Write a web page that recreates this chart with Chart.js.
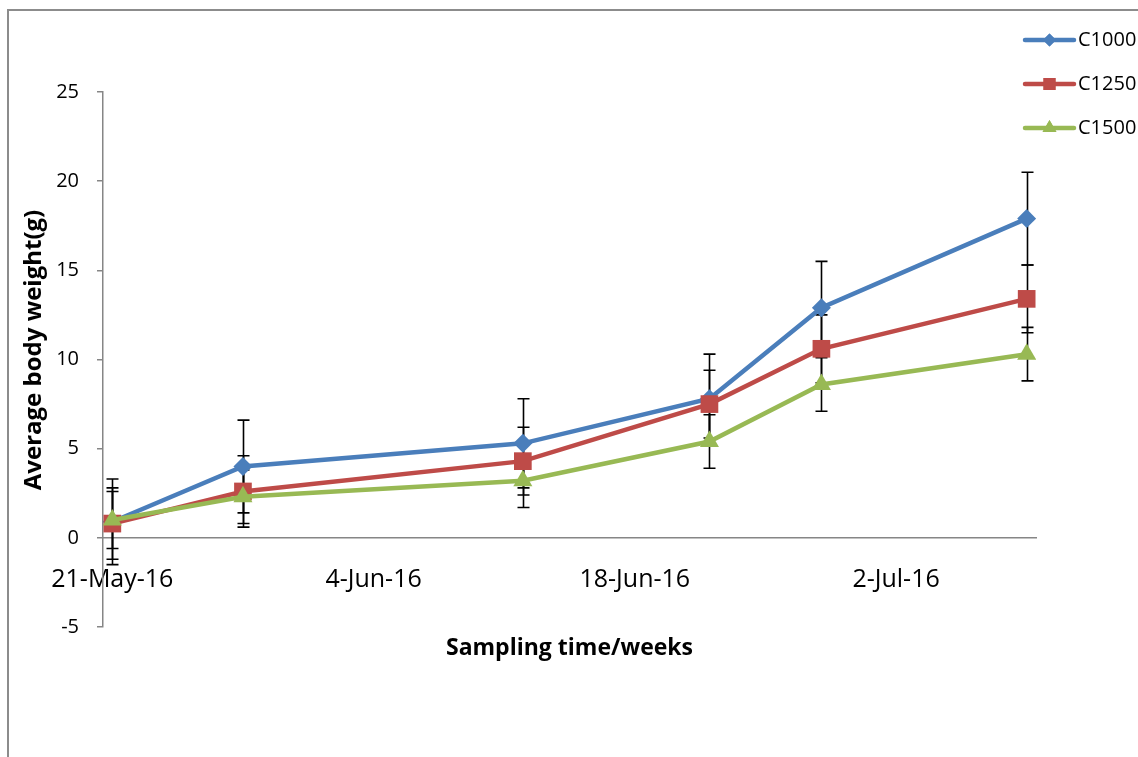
<!DOCTYPE html>
<html>
<head>
<meta charset="utf-8">
<title>Average body weight</title>
<script src="https://cdn.jsdelivr.net/npm/chart.js@4.4.1/dist/chart.umd.min.js"></script>
<style>
  html, body { margin: 0; padding: 0; background: #fff; }
</style>
</head>
<body>
<canvas id="growth" width="1138" height="757"></canvas>
<script>
// sampling dates and the mean weights (g) per treatment
const sampleDates = ['2016-05-21', '2016-05-28', '2016-06-12', '2016-06-22', '2016-06-28', '2016-07-09'];
const seriesNames = ['C1000', 'C1250', 'C1500'];
const c1000 = [0.9, 4.0, 5.3, 7.8, 12.9, 17.9];
const c1250 = [0.8, 2.6, 4.3, 7.5, 10.6, 13.4];
const c1500 = [1.0, 2.3, 3.2, 5.4, 8.6, 10.3];
// error bar half lengths (g)
const c1000Err = [2.4, 2.6, 2.5, 2.5, 2.6, 2.6];
const c1250Err = [2.0, 2.0, 1.9, 1.9, 1.9, 1.9];
const c1500Err = [1.6, 1.5, 1.5, 1.5, 1.5, 1.5];
// axis ticks
const tickDates = ['2016-05-21', '2016-06-04', '2016-06-18', '2016-07-02'];
const tickLabels = ['21-May-16', '4-Jun-16', '18-Jun-16', '2-Jul-16'];
const yTicks = [-5, 0, 5, 10, 15, 20, 25];

const colors = ['#4A7EBB', '#BE4B48', '#98B954'];
const styles = ['rectRot', 'rect', 'triangle'];
const radii = [9.5, 12.5, 11];
const font = '"Open Sans", sans-serif';

// days since the first sampling
const dayOf = s => (Date.parse(s) - Date.parse(sampleDates[0])) / 86400000;
const days = sampleDates.map(dayOf);
const tickDays = tickDates.map(dayOf);

function makeSet(i, values, errs) {
  return {
    label: seriesNames[i],
    data: days.map((d, k) => ({ x: d, y: values[k] })),
    errors: errs,
    borderColor: colors[i],
    backgroundColor: colors[i],
    borderWidth: 4.5,
    pointStyle: styles[i],
    pointRadius: radii[i],
    pointBorderWidth: 0,
    pointBackgroundColor: colors[i],
    tension: 0,
    order: 3 - i
  };
}

// black error bars, drawn under the markers
const errorBars = {
  id: 'errorBars',
  beforeDatasetsDraw(chart) {
    const { ctx, scales: { x, y } } = chart;
    ctx.save();
    ctx.strokeStyle = '#000';
    ctx.lineWidth = 1.6;
    chart.data.datasets.forEach(ds => {
      ds.data.forEach((p, i) => {
        const px = Math.round(x.getPixelForValue(p.x)) + 0.5;
        const top = y.getPixelForValue(p.y + ds.errors[i]);
        const bot = y.getPixelForValue(p.y - ds.errors[i]);
        ctx.beginPath();
        ctx.moveTo(px, top); ctx.lineTo(px, bot);
        ctx.moveTo(px - 6, top); ctx.lineTo(px + 6, top);
        ctx.moveTo(px - 6, bot); ctx.lineTo(px + 6, bot);
        ctx.stroke();
      });
    });
    ctx.restore();
  }
};

// frame, axis titles and legend in the Excel layout
const decorations = {
  id: 'decorations',
  beforeDraw(chart) {
    const ctx = chart.ctx;
    ctx.save();
    ctx.strokeStyle = '#8C8C8C';
    ctx.lineWidth = 2;
    ctx.strokeRect(8, 10, 1300, 900);
    ctx.restore();
  },
  afterDraw(chart) {
    const ctx = chart.ctx;
    ctx.save();
    ctx.fillStyle = '#000';
    ctx.font = 'bold 24px ' + font;
    ctx.textAlign = 'center';
    ctx.textBaseline = 'middle';
    ctx.translate(34, 350);
    ctx.rotate(-Math.PI / 2);
    ctx.fillText('Average body weight(g)', 0, 0);
    ctx.restore();

    ctx.save();
    ctx.font = 'bold 23px ' + font;
    ctx.textAlign = 'center';
    ctx.textBaseline = 'middle';
    ctx.fillStyle = '#000';
    const area = chart.chartArea;
    ctx.fillText('Sampling time/weeks', (area.left + area.right) / 2, 648);
    ctx.restore();

    const legendRadii = [6.5, 8.5, 8];
    seriesNames.forEach((name, i) => {
      const cy = 40 + i * 44;
      ctx.save();
      ctx.strokeStyle = colors[i];
      ctx.lineWidth = 4.5;
      ctx.lineCap = 'round';
      ctx.beginPath();
      ctx.moveTo(1025, cy); ctx.lineTo(1074, cy);
      ctx.stroke();
      ctx.fillStyle = colors[i];
      Chart.helpers.drawPoint(ctx, { pointStyle: styles[i], radius: legendRadii[i], rotation: 0, borderWidth: 0 }, 1049.5, cy);
      ctx.fill();
      ctx.fillStyle = '#000';
      ctx.font = '20px ' + font;
      ctx.textBaseline = 'middle';
      ctx.textAlign = 'left';
      ctx.fillText(name, 1078, cy);
      ctx.restore();
    });
  }
};

new Chart(document.getElementById('growth'), {
  type: 'line',
  data: {
    datasets: [
      makeSet(0, c1000, c1000Err),
      makeSet(1, c1250, c1250Err),
      makeSet(2, c1500, c1500Err)
    ]
  },
  options: {
    responsive: false,
    animation: false,
    layout: { padding: { left: 53, right: 102, top: 92, bottom: 130 } },
    plugins: { legend: { display: false }, tooltip: { enabled: false } },
    scales: {
      x: {
        type: 'linear',
        position: { y: 0 },
        min: -0.5,
        max: 49.5,
        afterBuildTicks: scale => { scale.ticks = tickDays.map(v => ({ value: v })); },
        ticks: {
          autoSkip: false,
          maxRotation: 0,
          padding: 27,
          color: '#000',
          font: { family: font, size: 25 },
          callback: (v, i) => tickLabels[i]
        },
        grid: { display: true, drawOnChartArea: false, drawTicks: false },
        border: { display: true, color: '#868686', width: 1.5 }
      },
      y: {
        min: -5,
        max: 25,
        afterBuildTicks: scale => { scale.ticks = yTicks.map(v => ({ value: v })); },
        afterFit: scale => { scale.width = 50; },
        ticks: {
          padding: 18,
          color: '#000',
          font: { family: font, size: 20 }
        },
        grid: { drawOnChartArea: false, drawTicks: true, tickLength: 6, color: '#868686', lineWidth: 1.5 },
        border: { display: true, color: '#868686', width: 1.5 }
      }
    }
  },
  plugins: [errorBars, decorations]
});
</script>
</body>
</html>
